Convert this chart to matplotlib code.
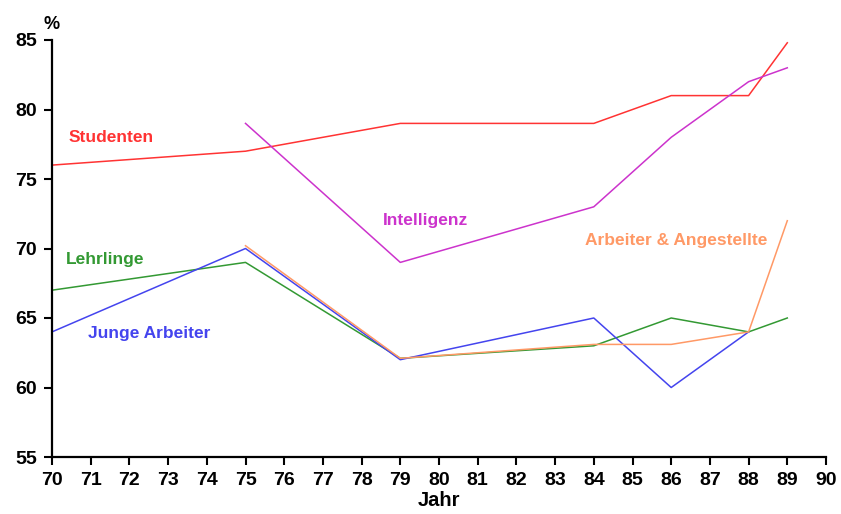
import matplotlib
matplotlib.use("Agg")
import matplotlib.pyplot as plt

plt.rcParams['font.family'] = ['Liberation Sans', 'DejaVu Sans']

stud_x = [70, 75, 79, 84, 86, 88, 89]
stud_y = [76, 77, 79, 79, 81, 81, 84.8]
int_x = [75, 79, 84, 86, 88, 89]
int_y = [79, 69, 73, 78, 82, 83]
lehr_x = [70, 75, 79, 84, 86, 88, 89]
lehr_y = [67, 69, 62.1, 63, 65, 64, 65]
junge_x = [70, 75, 79, 84, 86, 88]
junge_y = [64, 70, 62, 65, 60, 64]
arb_x = [75, 79, 84, 86, 88, 89]
arb_y = [70.2, 62.1, 63.1, 63.1, 64, 72]

series = [
    ("Studenten", stud_x, stud_y, "#ff3333", (70.42, 78.0)),
    ("Intelligenz", int_x, int_y, "#cc33cc", (78.55, 72.0)),
    ("Lehrlinge", lehr_x, lehr_y, "#339933", (70.37, 69.2)),
    ("Junge Arbeiter", junge_x, junge_y, "#4444ee", (70.93, 63.9)),
    ("Arbeiter & Angestellte", arb_x, arb_y, "#ff9966", (83.77, 70.6)),
]

fig = plt.figure(figsize=(8.41, 5.14), dpi=100)
ax = fig.add_axes([52/841, 57/514, (826-52)/841, (457-40)/514])

for name, xs, ys, c, pos in series:
    ax.plot(xs, ys, color=c, lw=1.1)
    ax.text(pos[0], pos[1], name, color=c, fontsize=12.5, fontweight='bold',
            ha='left', va='center')

ax.set_xlim(70, 90)
ax.set_ylim(55, 85)
ax.set_xticks(range(70, 91))
ax.set_yticks([55, 60, 65, 70, 75, 80, 85])
ax.spines['top'].set_visible(False)
ax.spines['right'].set_visible(False)
ax.spines['left'].set_linewidth(1.6)
ax.spines['bottom'].set_linewidth(1.6)
ax.tick_params(axis='both', direction='out', length=6, width=1.5, labelsize=14)
ax.tick_params(axis='x', pad=5)
ax.tick_params(axis='y', pad=5)
for lab in ax.get_xticklabels() + ax.get_yticklabels():
    lab.set_fontweight('bold')
ax.set_xlabel("Jahr", fontsize=14.5, fontweight='bold', labelpad=1)
fig.text(52/841, 1 - 24/514, "%", fontsize=13, fontweight='bold', ha='center', va='center')

fig.savefig("out.png", dpi=100, facecolor='white')
